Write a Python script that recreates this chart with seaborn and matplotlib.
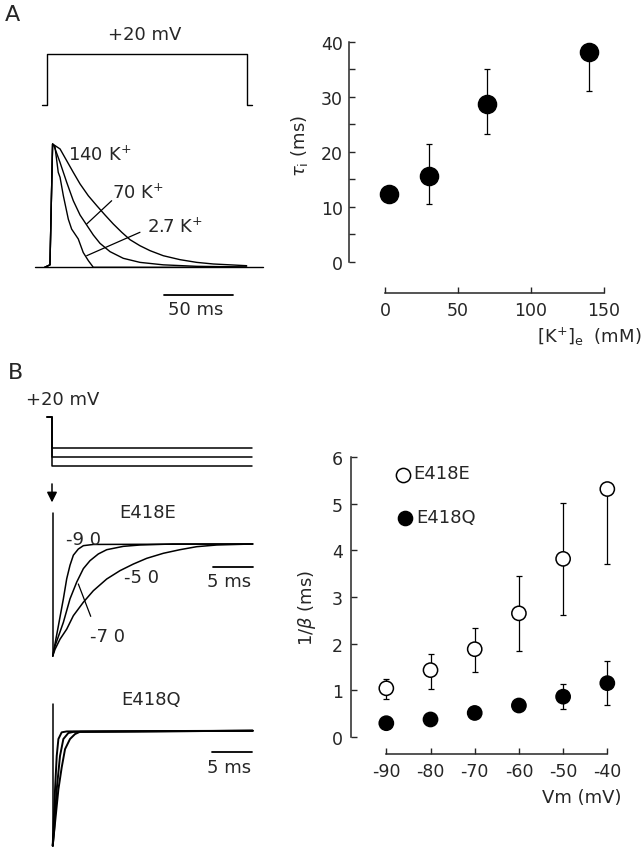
import matplotlib
matplotlib.use("Agg")
import matplotlib.pyplot as plt
import seaborn as sns
import numpy as np
import pandas as pd

# ---- panel A, left: normalized K+ currents (time in ms, peak = 1)
rise_t = [-2.0, 1.8, 3.7]
rise_i = [0.0, 0.02, 1.0]
t_140k = [9.1, 13.9, 18.7, 23.6, 29.6, 35.7, 41.7, 47.7, 53.8, 59.8, 67.0, 74.3, 83.9, 96.0, 108.1, 120.1, 132.2, 144.3]
i_140k = [0.96, 0.865, 0.77, 0.676, 0.58, 0.50, 0.424, 0.351, 0.284, 0.224, 0.175, 0.135, 0.094, 0.062, 0.04, 0.027, 0.02, 0.013]
t_70k = [4.7, 9.1, 13.9, 18.7, 23.6, 28.4, 33.2, 38.0, 45.3, 54.9, 67.0, 83.9, 108.1, 144.3]
i_70k = [0.986, 0.85, 0.69, 0.54, 0.424, 0.343, 0.262, 0.195, 0.127, 0.073, 0.04, 0.02, 0.008, 0.003]
t_27k = [5.4, 7.8, 9.1, 11.5, 15.1, 17.5, 22.3, 25.9, 29.6, 33.2, 144.3]
i_27k = [0.98, 0.77, 0.73, 0.58, 0.39, 0.31, 0.23, 0.12, 0.054, 0.0, 0.0]
pulse_t = [-4.2, 0.0, 0.0, 144.3, 144.3, 148.0]
pulse_lvl = [0, 0, 1, 1, 0, 0]

# ---- panel A, right: tau_i vs [K+]e
k_conc = [2.7, 30, 70, 140]
tau_i = [12.4, 15.6, 28.8, 38.1]
tau_lo = [0.0, 5.1, 5.5, 7.1]
tau_hi = [0.0, 5.8, 6.3, 0.0]

# ---- panel B, left: tail currents (time in ms, trough = -1)
step_mv = [-50, -70, -90]
pulse_mv = 20
tE_90 = [0, 0.71, 1.33, 1.75, 2.16, 2.58, 3.2, 3.83, 5.08, 25]
iE_90 = [-1.0, -0.73, -0.49, -0.31, -0.19, -0.10, -0.045, -0.015, -0.004, 0]
tE_70 = [0, 0.29, 1.33, 2.16, 3.0, 3.83, 4.66, 5.7, 6.75, 8.83, 10.9, 15, 25]
iE_70 = [-1.0, -0.91, -0.70, -0.49, -0.34, -0.22, -0.149, -0.089, -0.051, -0.021, -0.009, 0, 0]
tE_50 = [0, 0.29, 0.91, 1.75, 2.58, 3.83, 5.08, 6.75, 8.41, 10.08, 11.75, 13.83, 15.9, 18.0, 20.5, 25]
iE_50 = [-1.0, -0.94, -0.85, -0.76, -0.64, -0.52, -0.417, -0.3125, -0.238, -0.179, -0.128, -0.083, -0.051, -0.024, -0.009, 0]
tQ_90 = [0, 0.29, 0.5, 0.71, 1.12, 1.75, 25]
iQ_90 = [-1.0, -0.51, -0.22, -0.072, -0.014, -0.006, 0]
tQ_70 = [0, 0.16, 0.5, 0.91, 1.33, 1.95, 2.58, 25]
iQ_70 = [-1.0, -0.88, -0.51, -0.22, -0.072, -0.02, -0.01, 0]
tQ_50 = [0, 0.29, 0.71, 1.12, 1.54, 2.16, 2.79, 3.41, 25]
iQ_50 = [-1.0, -0.80, -0.51, -0.32, -0.16, -0.072, -0.029, -0.009, 0]

# ---- panel B, right: 1/beta vs Vm
vm = [-90, -80, -70, -60, -50, -40]
beta_e = [1.04, 1.43, 1.88, 2.65, 3.82, 5.32]
beta_e_lo = [0.23, 0.41, 0.48, 0.80, 1.21, 1.62]
beta_e_hi = [0.21, 0.35, 0.46, 0.81, 1.20, 0.0]
beta_q = [0.29, 0.37, 0.51, 0.67, 0.86, 1.15]
beta_q_lo = [0, 0, 0, 0, 0.27, 0.46]
beta_q_hi = [0, 0, 0, 0, 0.27, 0.48]

sns.set_style("ticks")
plt.rcParams["font.family"] = ["DejaVu Sans"]

W, H = 644, 853
fig = plt.figure(figsize=(W / 100, H / 100), dpi=100)


def px_axes(l, t, r, b):
    ax = fig.add_axes([l / W, 1 - b / H, (r - l) / W, (b - t) / H])
    ax.patch.set_alpha(0)
    return ax


def ftext(x, y, s, **kw):
    kw.setdefault("ha", "center")
    kw.setdefault("va", "center")
    kw.setdefault("fontsize", 13)
    fig.text(x / W, 1 - y / H, s, **kw)


def trace(ax, t, i, lw=1.0):
    sns.lineplot(x=t, y=i, ax=ax, color="black", lw=lw, sort=False,
                 estimator=None, clip_on=False)


# ===== A left
axA = px_axes(0, 0, 290, 345)
axA.set_xlim(-34.4, 175.7)
axA.set_ylim(-0.622, 2.176)
axA.axis("off")
trace(axA, rise_t + t_140k, rise_i + i_140k)
trace(axA, rise_t + t_70k, rise_i + i_70k)
trace(axA, rise_t + t_27k, rise_i + i_27k)
axA.plot([-9.1, 156], [0, 0], color="black", lw=1.0)
trace(axA, pulse_t, [1.316 + 0.414 * v for v in pulse_lvl])
axA.plot([84.4, 134.4], [-0.225, -0.225], color="black", lw=1.3)
axA.plot([28.4, 46.5], [0.351, 0.54], color="black", lw=0.9)
axA.plot([28.4, 67.0], [0.094, 0.284], color="black", lw=0.9)
ftext(12.5, 15, "A", fontsize=16)
ftext(145, 35, "+20 mV")
ftext(196, 310, "50 ms")
ftext(68, 155, "140 K$^{+}$", ha="left")
ftext(111.7, 193, "70 K$^{+}$", ha="left")
ftext(146.7, 227, "2.7 K$^{+}$", ha="left")

# ===== A right
axT = px_axes(349, 35, 615, 263)
dfT = pd.DataFrame({"k": k_conc, "tau": tau_i})
axT.errorbar(k_conc, tau_i, yerr=[tau_lo, tau_hi], fmt="none", ecolor="black",
             elinewidth=0.9, capsize=2.3, capthick=0.9, zorder=1)
sns.scatterplot(data=dfT, x="k", y="tau", ax=axT, color="black", s=170,
                edgecolor="black", zorder=3, clip_on=False)
axT.set_xlim(-24.66, 157.53)
axT.set_ylim(0, 41.45)
axT.set_xticks([0, 50, 100, 150])
axT.set_yticks([0, 10, 20, 30, 40])
axT.set_yticks([5, 15, 25, 35], minor=True)
axT.spines["top"].set_visible(False)
axT.spines["right"].set_visible(False)
axT.spines["bottom"].set_position(("outward", 22.3))
axT.spines["bottom"].set_bounds(0, 150)
axT.spines["left"].set_bounds(0, 40)
for sp in ("bottom", "left"):
    axT.spines[sp].set_linewidth(1.1)
axT.tick_params(axis="both", which="both", direction="in", length=4.5, width=1.0,
                labelsize=12.5)
axT.tick_params(axis="y", pad=4.3)
axT.tick_params(axis="x", pad=5.5)
axT.set_xlabel("")
axT.set_ylabel("")
ftext(300, 146, r"$\tau_{\mathrm{i}}$ (ms)", rotation=90)
ftext(537, 337, r"[K$^{+}$]$_{\mathrm{e}}$  (mM)", ha="left")

# ===== B left: voltage protocol
axV = px_axes(0, 405, 290, 510)
axV.set_xlim(-6.59, 29.66)
axV.set_ylim(-186.6, 49.3)
axV.axis("off")
for lvl in step_mv:
    trace(axV, [-0.75, -0.1, -0.1, 24.9], [pulse_mv, pulse_mv, lvl, lvl], lw=1.1)
axV.annotate("", xy=(-0.09, -178), xytext=(-0.09, -124),
             arrowprops=dict(arrowstyle="-|>", color="black", lw=1.1,
                             mutation_scale=15), annotation_clip=False)
ftext(15.5, 373, "B", fontsize=16)
ftext(62.5, 400, "+20 mV")

# ===== B left: E418E
axE = px_axes(0, 505, 290, 670)
axE.set_xlim(-6.59, 29.66)
axE.set_ylim(-1.116, 0.357)
axE.axis("off")
axE.plot([0, 0], [0.28, -1.0], color="black", lw=1.1)
for t, i in ((tE_90, iE_90), (tE_70, iE_70), (tE_50, iE_50)):
    trace(axE, t, i, lw=1.1)
axE.plot([20.07, 25.07], [-0.208, -0.208], color="black", lw=1.3)
axE.plot([3.2, 4.75], [-0.357, -0.646], color="black", lw=0.9)
ftext(147.5, 513, "E418E")
ftext(83, 540, "-9 0")
ftext(142, 578, "-5 0")
ftext(107, 637, "-7 0")
ftext(229, 582, "5 ms")

# ===== B left: E418Q
axQ = px_axes(0, 690, 290, 853)
axQ.set_xlim(-6.59, 29.66)
axQ.set_ylim(-1.055, 0.363)
axQ.axis("off")
axQ.plot([0, 0], [0.23, -1.0], color="black", lw=1.1)
for t, i in ((tQ_90, iQ_90), (tQ_70, iQ_70), (tQ_50, iQ_50)):
    trace(axQ, t, i, lw=1.4)
axQ.plot([19.875, 24.875], [-0.183, -0.183], color="black", lw=1.3)
ftext(151, 700, "E418Q")
ftext(229, 768, "5 ms")

# ===== B right
axB = px_axes(351, 450, 620, 737.7)
dfB = pd.DataFrame({
    "vm": vm + vm,
    "val": beta_e + beta_q,
    "clone": ["E418E"] * len(vm) + ["E418Q"] * len(vm),
})
axB.errorbar(vm, beta_e, yerr=[beta_e_lo, beta_e_hi], fmt="none", ecolor="black",
             elinewidth=0.9, capsize=2.3, capthick=0.9, zorder=1)
axB.errorbar(vm, beta_q, yerr=[beta_q_lo, beta_q_hi], fmt="none", ecolor="black",
             elinewidth=0.9, capsize=2.3, capthick=0.9, zorder=1)
sns.scatterplot(data=dfB, x="vm", y="val", hue="clone", ax=axB,
                palette={"E418E": "white", "E418Q": "black"}, s=105,
                edgecolor="black", linewidth=1.1, zorder=3, legend=False,
                clip_on=False)
axB.set_xlim(-97.99, -37.13)
axB.set_ylim(0, 6.18)
axB.set_xticks(vm)
axB.set_xticklabels([str(v) for v in vm])
axB.set_yticks(range(7))
axB.spines["top"].set_visible(False)
axB.spines["right"].set_visible(False)
axB.spines["bottom"].set_position(("outward", 12.5))
axB.spines["bottom"].set_bounds(-90, -40)
axB.spines["left"].set_bounds(0, 6)
for sp in ("bottom", "left"):
    axB.spines[sp].set_linewidth(1.1)
axB.tick_params(axis="both", direction="in", length=4.5, width=1.0, labelsize=12.5)
axB.tick_params(axis="y", pad=5.8)
axB.tick_params(axis="x", pad=6.0)
axB.set_xlabel("")
axB.set_ylabel("")
# hand-made key
axB.scatter([-86.2], [5.63], s=105, facecolor="white", edgecolor="black",
            linewidth=1.1, clip_on=False)
axB.scatter([-85.7], [4.69], s=105, facecolor="black", edgecolor="black",
            clip_on=False)
axB.text(-83.9, 5.66, "E418E", fontsize=13, va="center", ha="left")
axB.text(-83.3, 4.72, "E418Q", fontsize=13, va="center", ha="left")
ftext(307, 608, r"1/$\beta$ (ms)", rotation=90)
ftext(622, 798, "Vm (mV)", ha="right")

fig.savefig("out.png", dpi=100)
